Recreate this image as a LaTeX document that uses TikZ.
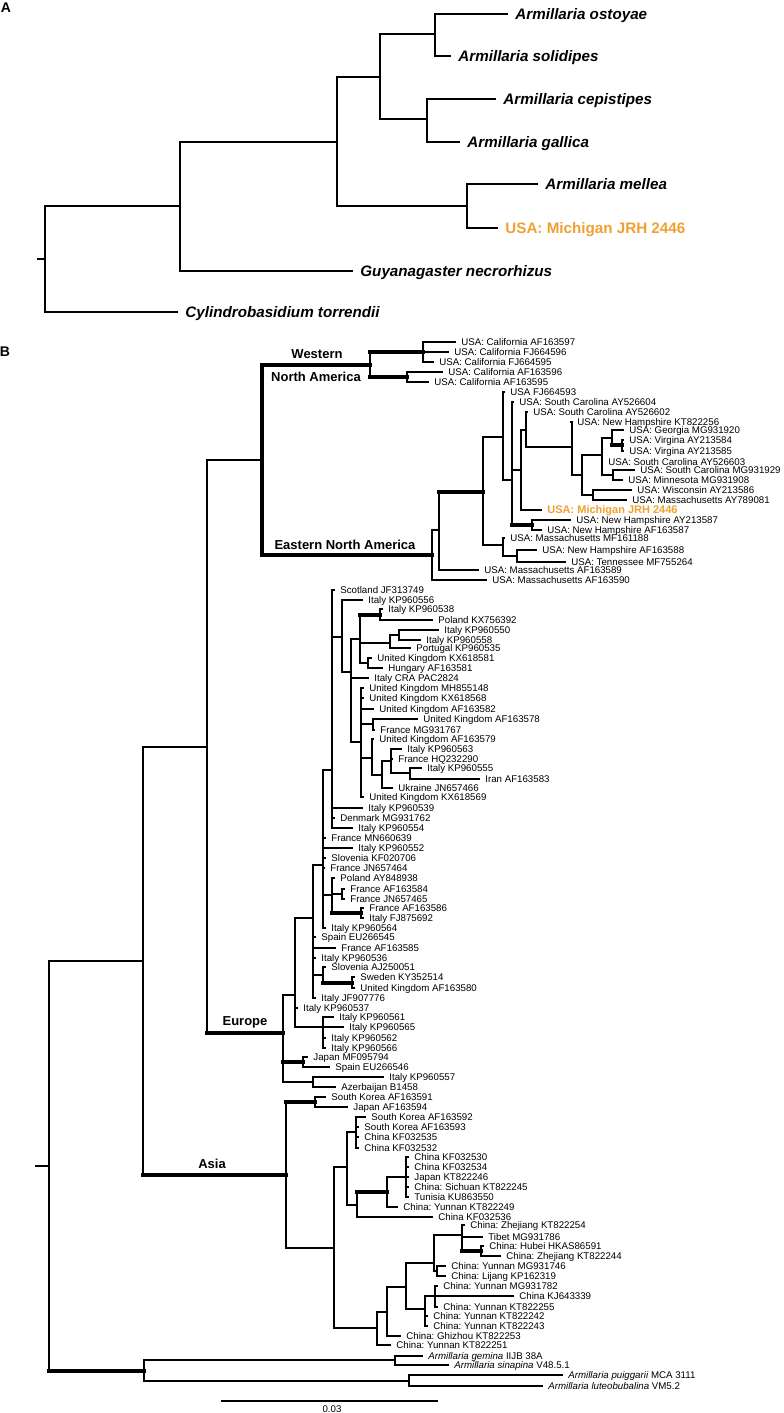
\documentclass[tikz,border=0pt]{standalone}
\usepackage{fontspec}
\setmainfont{Liberation Sans}
\usepackage{tikz}
\definecolor{JRHOrange}{RGB}{240,160,50}
\frenchspacing

\begin{document}
\begin{tikzpicture}[x=0.5pt, y=-0.5pt,
    brA/.style={line width=1.1pt, line cap=rect},
    br/.style={line width=0.65pt, line cap=rect},
    tbr/.style={line width=2pt, line cap=rect},
    lfa/.style={anchor=west, inner xsep=4pt, inner ysep=0pt,
                text height=5.3pt, text depth=0pt,
                font=\fontsize{7.6}{9}\selectfont\bfseries\itshape},
    lf/.style={anchor=west, inner xsep=3pt, inner ysep=0pt,
               text height=3.4pt, text depth=0pt,
               font=\fontsize{4.85}{5.5}\selectfont},
    micha/.style={text=JRHOrange, font=\fontsize{7.6}{9}\selectfont\bfseries},
    michb/.style={text=JRHOrange, text height=3.9pt,
                  font=\fontsize{5.5}{6}\selectfont\bfseries},
    clade/.style={inner sep=0pt, font=\fontsize{6.5}{7.5}\selectfont\bfseries},
    panel/.style={inner sep=0pt, font=\fontsize{7}{8}\selectfont\bfseries}
  ]
  \useasboundingbox (0,0) rectangle (783,1413);

  % Panel A
  \node[panel] (lbA) at (6,8) {A};
  \coordinate (aTick) at (38,259);
  \foreach \id/\x/\y in {aRoot/45/259, aN1/180/206, aN2/337/142, aN3/380/77,
                         aN4/435/34, aN5/427/119, aN6/467/206}
    \coordinate (\id) at (\x,\y);
  \foreach \pa/\tx/\y/\id/\lab in {aN4/507/14/ostA/Armillaria ostoyae,
      aN4/450/56/solA/Armillaria solidipes,
      aN5/495/99/cepA/Armillaria cepistipes,
      aN5/459/142/galA/Armillaria gallica,
      aN6/537/184/melA/Armillaria mellea,
      aN1/352/271/guyA/Guyanagaster necrorhizus,
      aRoot/177/312/cylA/Cylindrobasidium torrendii}
    {\node[lfa] (\id) at (\tx,\y) {\lab};
     \draw[brA] (\pa |- \id) -- (\id.west);}
  \node[lfa, micha] (jrhA) at (497,228) {USA: Michigan JRH 2446};
  \draw[brA] (aN6 |- jrhA) -- (jrhA.west);
  \draw[brA] (aTick) -- (aRoot);
  \foreach \id/\pa in {aN1/aRoot, aN2/aN1, aN3/aN2, aN4/aN3, aN5/aN3, aN6/aN2}
    \draw[brA] (\pa |- \id) -- (\id);
  \foreach \id/\ca/\cb in {aRoot/aN1/cylA, aN1/aN2/guyA, aN2/aN3/aN6, aN3/aN4/aN5,
                           aN4/ostA/solA, aN5/cepA/galA, aN6/melA/jrhA}
    \draw[brA] (\id |- \ca) -- (\id |- \cb);

  % Panel B
  \node[panel] (lbB) at (5,352) {B};
  \coordinate (bTick) at (36,1166);
  % internal nodes
  \foreach \id/\x/\y in {bRoot/49/1166, bIn/143/961, bNE/207/747, bNA/262/460,
      bWNA/370/365, bCal1/423/352, bCal2/407/377,
      bENA/432/555, bE1/439/530, bE2/483/492, bE3/503/437, bE4/512/480,
      bE5/521/470, bE6/526/430, bE7/572/447, bE7a/582/475, bG/602/455,
      bI/612/438, bK/622/445, bJ/613/475, bH/593/495, bE8/532/525,
      bE9/503/545, bE10/517/556,
      bEU/283/1033, bEu7/295/995, bEu5/313/918, bEu3/323/865, bEu1/332/770,
      bEuP/342/637, bEuS/351/672, bEuV/360/639, bEuKP/380/615, bEuT/390/643,
      bEuU/399/635, bEuW/368/663, bEuR/361/742, bEuF/373/724, bEuX/372/758,
      bEuY/382/775, bEuZ/391/761, bEuIr/410/773, bEu4/332/895, bEuFr/342/894,
      bEuFI/361/913, bSlo/323/975, bSw/352/983, bEu6/323/1027, bJS/303/1062,
      bAz/313/1082,
      bAS/286/1175, bKJ/315/1102, bA1/334/1248, bA2/347/1167, bA3/356/1132,
      bA4/357/1205, bA5/387/1192, bA6/406/1177, bA7/377/1328, bA7b/387/1312,
      bA8/406/1287, bA9/434/1263, bA10/462/1235, bHub/481/1251, bA11/437/1271,
      bA12/425/1309, bA13/435/1296,
      bOut/144/1371, bOg1/395/1360, bOg2/409/1381}
    \coordinate (\id) at (\x,\y);

  % North America
  \foreach \pa/\tx/\y/\id/\lab in {bCal1/455/342/AF163597/USA: California AF163597,
      bCal1/448/352/FJ664596/USA: California FJ664596,
      bCal1/433/362/FJ664595/USA: California FJ664595,
      bCal2/442/372/AF163596/USA: California AF163596,
      bCal2/428/382/AF163595/USA: California AF163595,
      bE3/504/392/FJ664593/USA FJ664593,
      bE4/513/402/AY526604/USA: South Carolina AY526604,
      bE6/527/412/AY526602/USA: South Carolina AY526602,
      bE7/571/422/KT822256/USA: New Hampshire KT822256,
      bI/623/430/MG931920/USA: Georgia MG931920,
      bK/623/440/AY213584/USA: Virgina AY213584,
      bK/623/451/AY213585/USA: Virgina AY213585,
      bG/602/462/AY526603/USA: South Carolina AY526603,
      bJ/634/470/MG931929/USA: South Carolina MG931929,
      bJ/622/480/MG931908/USA: Minnesota MG931908,
      bH/631/490/AY213586/USA: Wisconsin AY213586,
      bH/626/500/AY789081/USA: Massachusetts AY789081,
      bE8/570/520/AY213587/USA: New Hampshire AY213587,
      bE8/541/530/AF163587/USA: New Hampshire AF163587,
      bE9/504/538/MF161188/USA: Massachusetts MF161188,
      bE10/536/550/AF163588/USA: New Hampshire AF163588,
      bE10/565/562/MF755264/USA: Tennessee MF755264,
      bE1/478/570/AF163589/USA: Massachusetts AF163589,
      bENA/486/580/AF163590/USA: Massachusetts AF163590}
    {\node[lf] (\id) at (\tx,\y) {\lab};
     \draw[br] (\pa |- \id) -- (\id.west);}
  \node[lf, michb] (JRH2446) at (541,510) {USA: Michigan JRH 2446};
  \draw[br] (bE5 |- JRH2446) -- (JRH2446.west);

  % Europe
  \foreach \pa/\tx/\y/\id/\lab in {bEu1/334/590/JF313749/Scotland JF313749,
      bEuP/362/600/KP960556/Italy KP960556,
      bEuKP/382/609/KP960538/Italy KP960538,
      bEuKP/432/620/KX756392/Poland KX756392,
      bEuU/438/630/KP960550/Italy KP960550,
      bEuU/420/640/KP960558/Italy KP960558,
      bEuT/410/648/KP960535/Portugal KP960535,
      bEuW/371/658/KX618581/United Kingdom KX618581,
      bEuW/382/668/AF163581/Hungary AF163581,
      bEuS/368/678/PAC2824/Italy CRA PAC2824,
      bEuR/363/688/MH855148/United Kingdom MH855148,
      bEuR/363/698/KX618568/United Kingdom KX618568,
      bEuR/373/709/AF163582/United Kingdom AF163582,
      bEuF/417/719/AF163578/United Kingdom AF163578,
      bEuF/374/730/MG931767/France MG931767,
      bEuX/373/739/AF163579/United Kingdom AF163579,
      bEuZ/401/749/KP960563/Italy KP960563,
      bEuZ/392/759/HQ232290/France HQ232290,
      bEuIr/421/768/KP960555/Italy KP960555,
      bEuIr/479/779/AF163583/Iran AF163583,
      bEuY/392/788/JN657466/Ukraine JN657466,
      bEuR/363/797/KX618569/United Kingdom KX618569,
      bEu1/362/808/KP960539/Italy KP960539,
      bEu1/334/818/MG931762/Denmark MG931762,
      bEu1/352/828/KP960554/Italy KP960554,
      bEu3/325/838/MN660639/France MN660639,
      bEu3/352/848/KP960552/Italy KP960552,
      bEu3/325/858/KF020706/Slovenia KF020706,
      bEu3/324/868/JN657464/France JN657464,
      bEu4/334/878/AY848938/Poland AY848938,
      bEuFr/344/889/AF163584/France AF163584,
      bEuFr/344/899/JN657465/France JN657465,
      bEuFI/363/908/AF163586/France AF163586,
      bEuFI/363/918/FJ875692/Italy FJ875692,
      bEu3/325/928/KP960564/Italy KP960564,
      bEu5/315/937/EU266545/Spain EU266545,
      bEu5/335/948/AF163585/France AF163585,
      bEu5/315/958/KP960536/Italy KP960536,
      bSlo/325/967/AJ250051/Slovenia AJ250051,
      bSw/354/977/KY352514/Sweden KY352514,
      bSw/354/988/AF163580/United Kingdom AF163580,
      bEu5/315/998/JF907776/Italy JF907776,
      bEu7/297/1008/KP960537/Italy KP960537,
      bEu6/333/1017/KP960561/Italy KP960561,
      bEu6/343/1027/KP960565/Italy KP960565,
      bEu6/325/1038/KP960562/Italy KP960562,
      bEu6/325/1048/KP960566/Italy KP960566,
      bJS/307/1057/MF095794/Japan MF095794,
      bJS/329/1067/EU266546/Spain EU266546,
      bAz/383/1077/KP960557/Italy KP960557,
      bAz/335/1087/B1458/Azerbaijan B1458}
    {\node[lf] (\id) at (\tx,\y) {\lab};
     \draw[br] (\pa |- \id) -- (\id.west);}

  % Asia
  \foreach \pa/\tx/\y/\id/\lab in {bKJ/325/1097/AF163591/South Korea AF163591,
      bKJ/347/1107/AF163594/Japan AF163594,
      bA3/365/1117/AF163592/South Korea AF163592,
      bA3/358/1127/AF163593/South Korea AF163593,
      bA3/358/1137/KF032535/China KF032535,
      bA3/358/1148/KF032532/China KF032532,
      bA6/408/1157/KF032530/China KF032530,
      bA6/408/1167/KF032534/China KF032534,
      bA6/408/1177/KT822246/Japan KT822246,
      bA6/408/1187/KT822245/China: Sichuan KT822245,
      bA6/408/1197/KU863550/Tunisia KU863550,
      bA5/397/1207/KT822249/China: Yunnan KT822249,
      bA4/432/1217/KF032536/China KF032536,
      bA10/464/1225/KT822254/China: Zhejiang KT822254,
      bA10/482/1237/MG931786/Tibet MG931786,
      bHub/483/1246/HKAS86591/China: Hubei HKAS86591,
      bHub/500/1256/KT822244/China: Zhejiang KT822244,
      bA11/445/1266/MG931746/China: Yunnan MG931746,
      bA11/445/1276/KP162319/China: Lijang KP162319,
      bA13/437/1286/MG931782/China: Yunnan MG931782,
      bA13/513/1296/KJ643339/China KJ643339,
      bA13/437/1307/KT822255/China: Yunnan KT822255,
      bA12/427/1316/KT822242/China: Yunnan KT822242,
      bA12/427/1326/KT822243/China: Yunnan KT822243,
      bA7b/400/1336/KT822253/China: Ghizhou KT822253,
      bA7/390/1345/KT822251/China: Yunnan KT822251}
    {\node[lf] (\id) at (\tx,\y) {\lab};
     \draw[br] (\pa |- \id) -- (\id.west);}

  % Outgroups
  \node[lf] (IIJB38A) at (422,1356) {\textit{Armillaria gemina} IIJB 38A};
  \node[lf] (V4851) at (448,1365) {\textit{Armillaria sinapina} V48.5.1};
  \node[lf] (MCA3111) at (562,1375) {\textit{Armillaria puiggarii} MCA 3111};
  \node[lf] (VM52) at (542,1386) {\textit{Armillaria luteobubalina} VM5.2};
  \draw[br] (bOg1 |- IIJB38A) -- (IIJB38A.west);
  \draw[br] (bOg1 |- V4851) -- (V4851.west);
  \draw[br] (bOg2 |- MCA3111) -- (MCA3111.west);
  \draw[br] (bOg2 |- VM52) -- (VM52.west);

  % branches to parents
  \draw[br] (bTick) -- (bRoot);
  \foreach \id/\pa/\st in {bIn/bRoot/br, bNE/bIn/br, bNA/bNE/br, bWNA/bNA/tbr,
      bCal1/bWNA/tbr, bCal2/bWNA/tbr, bENA/bNA/tbr, bE1/bENA/br, bE2/bE1/tbr,
      bE3/bE2/br, bE4/bE3/br, bE5/bE4/br, bE6/bE5/br, bE7/bE6/br, bE7a/bE7/br,
      bG/bE7a/br, bI/bG/br, bK/bI/tbr, bJ/bG/br, bH/bE7a/br, bE8/bE4/tbr,
      bE9/bE2/br, bE10/bE9/br,
      bEU/bNE/tbr, bEu7/bEU/br, bEu5/bEu7/br, bEu3/bEu5/br, bEu1/bEu3/br,
      bEuP/bEu1/br, bEuS/bEuP/br, bEuV/bEuS/br, bEuKP/bEuV/tbr, bEuT/bEuV/br,
      bEuU/bEuT/br, bEuW/bEuV/br, bEuR/bEuS/br, bEuF/bEuR/br, bEuX/bEuR/br,
      bEuY/bEuX/br, bEuZ/bEuY/br, bEuIr/bEuZ/br, bEu4/bEu3/br, bEuFr/bEu4/br,
      bEuFI/bEu4/tbr, bSlo/bEu5/br, bSw/bSlo/tbr, bEu6/bEu7/br, bJS/bEU/tbr,
      bAz/bEU/br,
      bAS/bIn/tbr, bKJ/bAS/tbr, bA1/bAS/br, bA2/bA1/br, bA3/bA2/br, bA4/bA2/br,
      bA5/bA4/tbr, bA6/bA5/br, bA7/bA1/br, bA7b/bA7/br, bA8/bA7b/br,
      bA9/bA8/br, bA10/bA9/br, bHub/bA10/tbr, bA11/bA9/br, bA12/bA8/br,
      bA13/bA12/br,
      bOut/bRoot/tbr, bOg1/bOut/br, bOg2/bOut/br}
    \draw[\st] (\pa |- \id) -- (\id);

  % verticals
  \foreach \id/\ca/\cb/\st in {bRoot/bIn/bOut/br, bIn/bNE/bAS/br, bNE/bNA/bEU/br,
      bNA/bWNA/bENA/tbr, bWNA/bCal1/bCal2/br, bCal1/AF163597/FJ664595/br,
      bCal2/AF163596/AF163595/br, bENA/bE1/AF163590/br, bE1/bE2/AF163589/br,
      bE2/bE3/bE9/br, bE3/FJ664593/bE4/br, bE4/AY526604/bE8/br,
      bE5/bE6/JRH2446/br, bE6/AY526602/bE7/br, bE7/KT822256/bE7a/br,
      bE7a/bG/bH/br, bG/bI/bJ/br, bI/MG931920/bK/br, bK/AY213584/AY213585/br,
      bJ/MG931929/MG931908/br, bH/AY213586/AY789081/br,
      bE8/AY213587/AF163587/br, bE9/MF161188/bE10/br, bE10/AF163588/MF755264/br,
      bEU/bEu7/bAz/br, bEu7/bEu5/bEu6/br, bEu5/bEu3/JF907776/br,
      bEu3/bEu1/KP960564/br, bEu1/JF313749/KP960554/br, bEuP/KP960556/bEuS/br,
      bEuS/bEuV/bEuR/br, bEuV/bEuKP/bEuW/br, bEuKP/KP960538/KX756392/br,
      bEuT/bEuU/KP960535/br, bEuU/KP960550/KP960558/br,
      bEuW/KX618581/AF163581/br, bEuR/MH855148/KX618569/br,
      bEuF/AF163578/MG931767/br, bEuX/AF163579/bEuY/br, bEuY/bEuZ/JN657466/br,
      bEuZ/KP960563/bEuIr/br, bEuIr/KP960555/AF163583/br,
      bEu4/AY848938/bEuFI/br, bEuFr/AF163584/JN657465/br,
      bEuFI/AF163586/FJ875692/br, bSlo/AJ250051/bSw/br,
      bSw/KY352514/AF163580/br, bEu6/KP960561/KP960566/br,
      bJS/MF095794/EU266546/br, bAz/KP960557/B1458/br,
      bAS/bKJ/bA1/br, bKJ/AF163591/AF163594/br, bA1/bA2/bA7/br,
      bA2/bA3/bA4/br, bA3/AF163592/KF032532/br, bA4/bA5/KF032536/br,
      bA5/bA6/KT822249/br, bA6/KF032530/KU863550/br, bA7/bA7b/KT822251/br,
      bA7b/bA8/KT822253/br, bA8/bA9/bA12/br, bA9/bA10/bA11/br,
      bA10/KT822254/bHub/br, bHub/HKAS86591/KT822244/br,
      bA11/MG931746/KP162319/br, bA12/bA13/KT822243/br,
      bA13/MG931782/KT822255/br,
      bOut/bOg1/bOg2/br, bOg1/IIJB38A/V4851/br, bOg2/MCA3111/VM52/br}
    \draw[\st] (\id |- \ca) -- (\id |- \cb);

  % Clade labels
  \node[clade] (lbWest) at (317,354) {Western};
  \node[clade] (lbNAm) at (316,377) {North America};
  \node[clade] (lbENA) at (345,545) {Eastern North America};
  \node[clade] (lbEur) at (245,1022) {Europe};
  \node[clade] (lbAsia) at (212,1164) {Asia};

  % Scale bar
  \coordinate (sbL) at (222,1401);
  \coordinate (sbR) at (437,1401);
  \draw[br] (sbL) -- (sbR);
  \node[lf, anchor=center, inner xsep=0pt] (lbScale) at (332,1409) {0.03};
\end{tikzpicture}
\end{document}
